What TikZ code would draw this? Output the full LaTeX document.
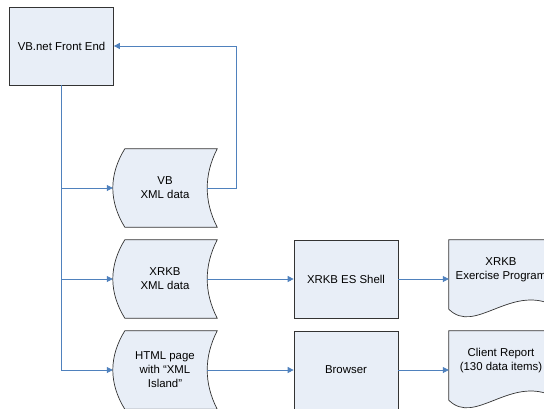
\documentclass[tikz,border=0pt]{standalone}
\usepackage{fontspec}
\setmainfont{Liberation Sans}
\usetikzlibrary{arrows.meta,backgrounds}
\definecolor{shapefill}{RGB}{232,238,247}
\definecolor{flowblue}{RGB}{79,129,189}
\tikzset{
  lbl/.style={align=center,font=\fontsize{11.4}{14}\selectfont,inner sep=0pt},
  procbox/.style={lbl,draw=black!80,line width=0.7pt,fill=shapefill,
    minimum width=104pt,minimum height=78pt},
  tapebox/.style={lbl,minimum width=104pt,minimum height=78pt},
  docbox/.style={lbl,minimum width=104pt,minimum height=60pt},
  outline/.style={draw=black!80,line width=0.7pt,fill=shapefill},
  flow/.style={draw=flowblue,line width=0.8pt,-{Triangle[length=6pt,width=6pt]}},
}
\begin{document}
\begin{tikzpicture}[x=1pt,y=-1pt]
  \useasboundingbox (0,0) rectangle (544,408);
  \clip (0,0) rectangle (544,408);
  \node[procbox] (frontend) at (61.5,46) {VB.net Front End};
  \node[tapebox] (vbdata) at (165,188) {VB\\XML data};
  \node[tapebox] (xrkbdata) at (165,279) {XRKB\\XML data};
  \node[tapebox] (htmldata) at (165,370) {HTML page\\with “XML\\Island”};
  \node[procbox] (shell) at (346,279) {XRKB ES Shell};
  \node[procbox] (browser) at (346,370) {Browser};
  \node[docbox] (exercise) at (501,270) {XRKB\\Exercise Program};
  \node[docbox] (report) at (501,361) {Client Report\\(130 data items)};
  % shape outlines behind the texts
  \begin{scope}[on background layer]
    \foreach \t in {vbdata,xrkbdata,htmldata}
      \draw[outline] ([xshift=12pt]\t.north west) -- (\t.north east)
        .. controls +(-13.3,26) and +(-13.3,-26) .. (\t.south east)
        -- ([xshift=12pt]\t.south west)
        .. controls +(-16,-26) and +(-16,26) .. ([xshift=12pt]\t.north west) -- cycle;
    \foreach \d in {exercise,report}
      \draw[outline] (\d.north west) -- (\d.north east) -- ([yshift=-5pt]\d.south east)
        .. controls +(-43,-21) and +(26,26) .. ([yshift=-9pt]\d.south west) -- cycle;
  \end{scope}
  % connectors
  \draw[flow] (frontend.south) |- (vbdata.west);
  \draw[flow] (frontend.south) |- (xrkbdata.west);
  \draw[flow] (frontend.south) |- (htmldata.west);
  \draw[flow] ([xshift=-10pt]vbdata.east) -- ++(29,0) |- (frontend.east);
  \draw[flow] ([xshift=-10pt]xrkbdata.east) -- (shell.west);
  \draw[flow] ([xshift=-10pt]htmldata.east) -- (browser.west);
  \draw[flow] (shell.east) -- (shell.east -| exercise.west);
  \draw[flow] (browser.east) -- (browser.east -| report.west);
\end{tikzpicture}
\end{document}
